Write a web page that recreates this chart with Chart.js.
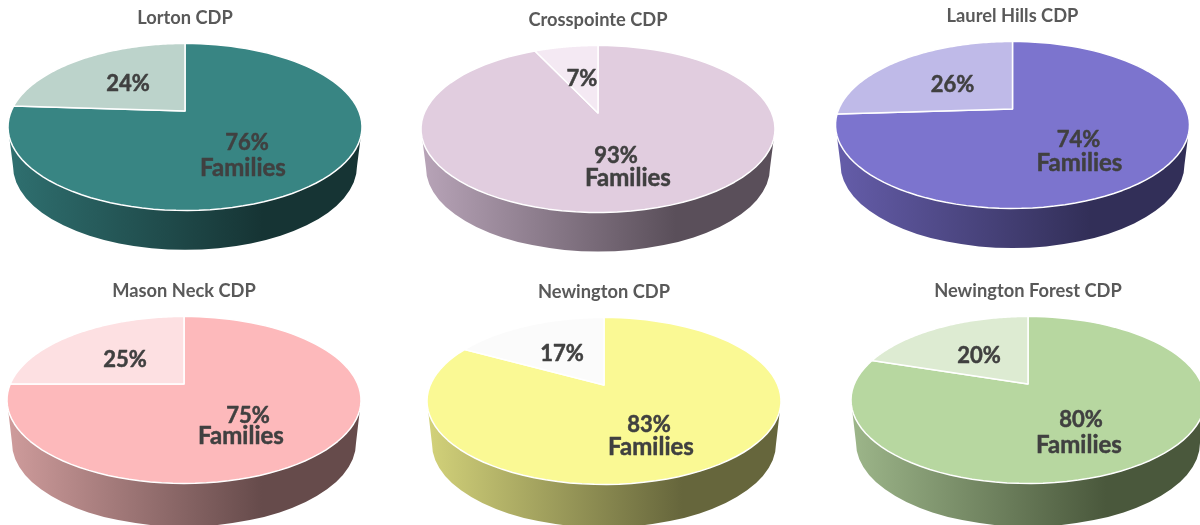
<!DOCTYPE html>
<html>
<head>
<meta charset="utf-8">
<title>Families by CDP</title>
<script src="https://cdn.jsdelivr.net/npm/chart.js@4"></script>
<style>
    html, body { margin: 0; width: 1200px; height: 525px; overflow: hidden; background: #fff; }
    canvas { position: absolute; }
</style>
</head>
<body>
<script>
// Dados
const places = ['Lorton CDP', 'Crosspointe CDP', 'Laurel Hills CDP', 'Mason Neck CDP', 'Newington CDP', 'Newington Forest CDP'];
const families = [76, 93, 74, 75, 83, 80];
const others = [24, 7, 26, 25, 17, 20];
const secondLine = 'Families';

// Cores
const mainColors = ['#388583', '#E1CDDF', '#7C74CE', '#FDB9BB', '#FAF994', '#B7D7A0'];
const sliceColors = ['#BCD3CB', '#F4E9F3', '#BFBAE8', '#FDE0E2', '#FBFBFB', '#DDEBD2'];
const sideLeft = ['#2F7070', '#B8A4B8', '#655DAA', '#CF9C9C', '#D3D27A', '#9DB68A'];
const sideRight = ['#163434', '#5A4F5A', '#322F58', '#664B4B', '#66663C', '#4A583C'];

// Posicoes (centro de cada pizza e deslocamento dos textos em relacao ao centro)
const centerX = [185, 598, 1012, 184, 604, 1028];
const centerY = [127, 128.5, 125, 400, 400.5, 400];
const titleX = [185, 599, 1012.5, 184, 606, 1030];
const depths = [39.3, 39, 39.5, 43, 43, 43];
const familyPos = [[62, 16], [18, 27], [66, 15], [64, 16], [45, 24], [53, 20]];
const familiesPos = [[58, 41], [30, 49], [67, 38], [57, 36], [47, 46], [51, 45]];
const otherPos = [[-57, -43], [-16, -50], [-60, -40], [-59, -40], [-42, -47], [-49, -44]];

const RX = 177, RY = 83.5, SHIFT = 16, SIDE_INSET = 5;
const CANVAS_W = 400, CANVAS_H = 270, TITLE_TO_TOP = 125;

// Projecao em perspectiva do circulo para a elipse
const persp = -SHIFT / RY;
const SX = RX * Math.sqrt(1 - persp * persp);
function project(cx, cy, angle) {
    const u = Math.cos(angle), v = Math.sin(angle);
    const w = 1 + persp * v;
    return [cx + SX * u / w, cy + (RY * v - SHIFT) / w];
}

class TiltedArc extends Chart.ArcElement {
    draw(ctx) {
        const { x, y, startAngle, endAngle } = this.getProps(['x', 'y', 'startAngle', 'endAngle']);
        const steps = 90;
        ctx.beginPath();
        ctx.moveTo(x, y - SHIFT);
        for (let i = 0; i <= steps; i++) {
            const p = project(x, y, startAngle + (endAngle - startAngle) * i / steps);
            ctx.lineTo(p[0], p[1]);
        }
        ctx.closePath();
        ctx.fillStyle = this.options.backgroundColor;
        ctx.fill();
        ctx.lineJoin = 'round';
        ctx.lineWidth = this.options.borderWidth;
        ctx.strokeStyle = this.options.borderColor;
        ctx.stroke();
    }
}
TiltedArc.id = 'tiltedArc';
TiltedArc.defaults = Chart.ArcElement.defaults;
TiltedArc.defaultRoutes = Chart.ArcElement.defaultRoutes;

class TiltedPie extends Chart.PieController {}
TiltedPie.id = 'tiltedPie';
TiltedPie.defaults = { dataElementType: 'tiltedArc' };

Chart.register(TiltedArc, TiltedPie);

function boldText(ctx, text, x, y) {
    ctx.fillText(text, x, y);
    ctx.strokeText(text, x, y);
}

// Lateral do cilindro e textos
const pie3d = {
    id: 'pie3d',
    beforeDatasetsDraw(chart, args, opts) {
        const arc = chart.getDatasetMeta(0).data[0];
        const ctx = chart.ctx;
        const x = arc.x, y = arc.y;
        const grad = ctx.createLinearGradient(x - RX, 0, x + RX, 0);
        grad.addColorStop(0, opts.left);
        grad.addColorStop(0.72, opts.right);
        grad.addColorStop(1, opts.right);
        ctx.save();
        ctx.beginPath();
        ctx.moveTo(x - RX, y);
        ctx.ellipse(x, y + opts.depth, RX - SIDE_INSET, RY, 0, Math.PI, 0, true);
        ctx.lineTo(x + RX, y);
        ctx.closePath();
        ctx.fillStyle = grad;
        ctx.fill();
        ctx.restore();
    },
    afterDatasetsDraw(chart, args, opts) {
        const arc = chart.getDatasetMeta(0).data[0];
        const ctx = chart.ctx;
        const values = chart.data.datasets[0].data;
        ctx.save();
        ctx.fillStyle = '#404040';
        ctx.strokeStyle = '#404040';
        ctx.lineWidth = 0.5;
        ctx.textAlign = 'center';
        ctx.textBaseline = 'middle';
        ctx.font = 'bold 22px Lato';
        boldText(ctx, values[0] + '%', arc.x + opts.main[0], arc.y + opts.main[1]);
        boldText(ctx, values[1] + '%', arc.x + opts.other[0], arc.y + opts.other[1]);
        ctx.font = 'bold 24px Lato';
        boldText(ctx, secondLine, arc.x + opts.second[0], arc.y + opts.second[1]);
        ctx.restore();
    }
};

places.forEach((place, i) => {
    const canvas = document.createElement('canvas');
    canvas.style.left = (titleX[i] - CANVAS_W / 2) + 'px';
    canvas.style.top = (centerY[i] - TITLE_TO_TOP) + 'px';
    canvas.style.width = CANVAS_W + 'px';
    canvas.style.height = CANVAS_H + 'px';
    canvas.width = CANVAS_W;
    canvas.height = CANVAS_H;
    document.body.appendChild(canvas);

    new Chart(canvas, {
        type: 'tiltedPie',
        data: {
            labels: ['Families', 'Other'],
            datasets: [{
                data: [families[i], others[i]],
                backgroundColor: [mainColors[i], sliceColors[i]],
                borderColor: '#ffffff',
                borderWidth: 1.5,
                clip: false
            }]
        },
        plugins: [pie3d],
        options: {
            responsive: false,
            animation: false,
            radius: RX,
            layout: { padding: { bottom: 50, right: 2 * (titleX[i] - centerX[i]) } },
            plugins: {
                legend: { display: false },
                tooltip: { enabled: false },
                title: {
                    display: true,
                    text: place,
                    color: '#595959',
                    font: { family: 'Lato', size: 18.3, weight: 'bold' },
                    padding: { top: 5, bottom: 3 }
                },
                pie3d: {
                    left: sideLeft[i],
                    right: sideRight[i],
                    depth: depths[i],
                    main: familyPos[i],
                    second: familiesPos[i],
                    other: otherPos[i]
                }
            }
        }
    });
});
</script>
</body>
</html>
